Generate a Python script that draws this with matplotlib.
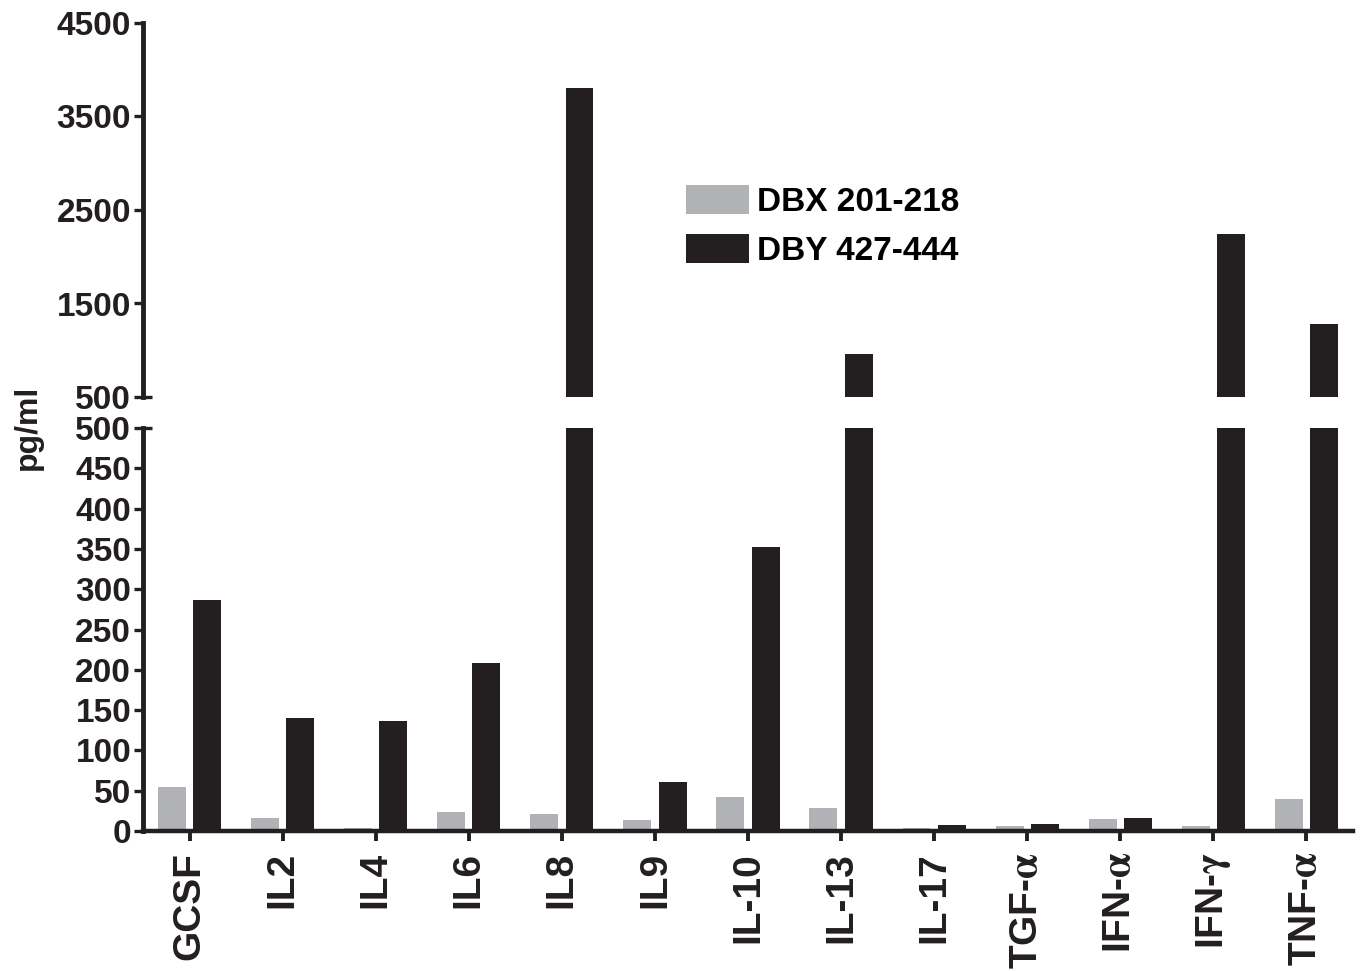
import matplotlib
matplotlib.use('Agg')
import matplotlib.pyplot as plt
import numpy as np

categories = ['GCSF', 'IL2', 'IL4', 'IL6', 'IL8', 'IL9', 'IL-10', 'IL-13', 'IL-17',
              r'TGF-$\mathrm{\alpha}$', r'IFN-$\mathrm{\alpha}$', r'IFN-$\mathrm{\gamma}$',
              r'TNF-$\mathrm{\alpha}$']
dbx_201_218 = [55, 16, 4, 23, 21, 14, 42, 29, 4, 6, 15, 6, 40]
dby_427_444 = [287, 140, 137, 209, 3805, 61, 352, 960, 8, 9, 16, 2245, 1280]
series_labels = ['DBX 201-218', 'DBY 427-444']
lower_ticks = [0, 50, 100, 150, 200, 250, 300, 350, 400, 450]
upper_ticks = [1500, 2500, 3500, 4500]

plt.rcParams['font.family'] = ['Liberation Sans', 'DejaVu Sans']
plt.rcParams['font.weight'] = 'bold'
plt.rcParams['mathtext.fontset'] = 'stix'

GRAY = '#B1B2B5'
BLACK = '#231F20'

fig = plt.figure(figsize=(13.6, 9.71), dpi=100)
W, H = 1360, 971
ax_lo = fig.add_axes([143 / W, 1 - 831 / H, 1210 / W, 403 / H])
ax_hi = fig.add_axes([143 / W, 1 - 397 / H, 1210 / W, 374 / H])

x = np.arange(len(categories))
bw, off = 0.30, 0.19
handles = []
for ax in (ax_lo, ax_hi):
    b1 = ax.bar(x - off, dbx_201_218, bw, color=GRAY, label=series_labels[0], zorder=2)
    b2 = ax.bar(x + off, dby_427_444, bw, color=BLACK, label=series_labels[1], zorder=2)
    ax.set_xlim(-0.5, 12.5)
    ax.spines['top'].set_visible(False)
    ax.spines['right'].set_visible(False)
    ax.spines['left'].set_linewidth(3.5)
    ax.spines['left'].set_color(BLACK)
    ax.spines['bottom'].set_linewidth(3.2)
    ax.spines['bottom'].set_color(BLACK)
    ax.tick_params(axis='y', which='major', direction='out', length=6.5, width=2.4,
                   color=BLACK, labelsize=24, pad=2)
    ax.tick_params(axis='y', which='minor', direction='inout', length=13, width=2.4,
                   color=BLACK, labelsize=24, pad=2)
    handles = [b1, b2]

ax_lo.set_ylim(0, 500)
ax_hi.set_ylim(500, 4500)
ax_lo.set_yticks(lower_ticks)
ax_lo.set_yticks([500], labels=['500'], minor=True)
ax_hi.set_yticks(upper_ticks)
ax_hi.set_yticks([500], labels=['500'], minor=True)

ax_hi.spines['bottom'].set_visible(False)
ax_hi.set_xticks([])

ax_lo.set_xticks(x)
ax_lo.set_xticklabels(categories, rotation=90, fontsize=28, fontweight='bold')
ax_lo.tick_params(axis='x', direction='out', length=7, width=2.8, color=BLACK, pad=8)

for ax in (ax_lo, ax_hi):
    for lab in ax.get_yticklabels() + ax.get_yticklabels(minor=True):
        lab.set_fontweight('bold')
        lab.set_color(BLACK)
for lab in ax_lo.get_xticklabels():
    lab.set_color(BLACK)

fig.text(28 / W, 1 - 427 / H, 'pg/ml', rotation=90, ha='center', va='center',
         fontsize=23, fontweight='bold', color=BLACK)

fig.legend(handles, series_labels, loc='upper left',
           bbox_to_anchor=(686 / W, 1 - 185 / H), frameon=False, borderpad=0,
           borderaxespad=0, handlelength=1.9, handleheight=0.95,
           handletextpad=0.22, labelspacing=0.5,
           prop={'weight': 'bold', 'size': 24})

fig.savefig('out.png', dpi=100, facecolor='white')
